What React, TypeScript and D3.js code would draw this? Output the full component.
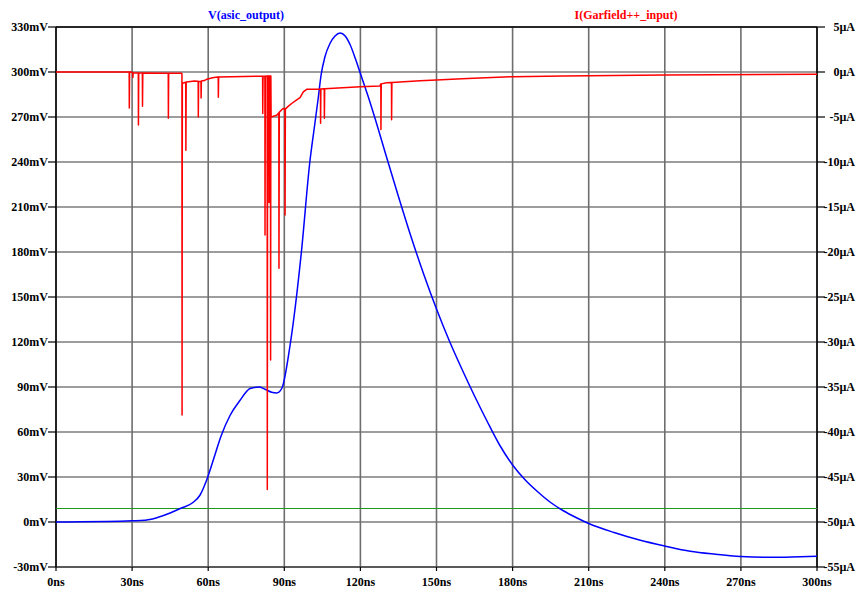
import React from 'react';
import * as d3 from 'd3';

// V(asic_output): [time ns, mV]
const voltagePoints: [number, number][] = [
  [0, 0], [10, 0.1], [20, 0.3], [30, 0.8], [35, 1.2], [37, 1.6], [40, 3], [45, 6], [49, 9],
  [54, 13], [56.8, 18], [59.4, 28], [62.7, 45], [65, 57], [68.6, 71], [72.5, 81], [76.5, 89],
  [80, 90], [82.4, 88.5], [85, 86.5], [87, 86], [89, 89], [92.2, 117], [96.8, 181], [100, 239],
  [102, 265], [103.4, 283], [104.5, 298], [106, 310], [108, 319], [110, 324], [112, 326],
  [114, 324], [116, 318], [118, 309], [120, 299], [123, 284], [126.5, 265], [130, 245],
  [135, 217], [140, 190], [145, 165], [150, 142], [155, 121], [160, 102], [165, 84], [170, 67],
  [175, 51], [180, 38], [185, 28], [190, 20], [195, 13], [200, 7.5], [205, 3], [210, -1],
  [220, -7], [230, -12], [240, -16], [250, -19.5], [260, -21.5], [270, -23], [280, -23.5],
  [290, -23.3], [300, -22.8],
];

// I(Garfield++_input) slow level: [time ns, µA]
const currentLevel: [number, number][] = [
  [0, 0], [29.8, 0], [30.2, -0.1], [49.6, -0.15], [49.8, -1.25], [51.5, -1.1], [54.5, -1.0],
  [56.5, -1.05], [58.5, -0.95], [59.5, -0.8], [61.7, -0.63], [63.7, -0.55], [84.7, -0.45],
  [84.8, -5.0], [87, -4.8], [88.3, -4.4], [89.5, -4.05], [90.5, -4.1], [91.4, -3.85],
  [92.9, -3.5], [94.9, -3.1], [96.2, -2.85], [97.5, -2.2], [98.8, -1.93], [104, -1.9],
  [120, -1.65], [127.7, -1.55], [128, -1.33], [130.4, -1.2], [143.5, -0.96], [150, -0.9],
  [160, -0.75], [180, -0.52], [200, -0.45], [240, -0.32], [300, -0.25],
];

// I(Garfield++_input) narrow negative pulses: [time ns, µA at the tip]
const currentSpikes: [number, number][] = [
  [28.9, -4.0], [30.3, -0.6], [32.5, -5.9], [34.1, -3.8], [44.3, -5.15], [49.7, -38.1],
  [51.2, -8.7], [56.1, -5.0], [57.2, -2.9], [64.0, -2.8], [81.5, -4.6], [82.4, -18.1],
  [83.3, -46.4], [84.0, -14.5], [84.6, -32], [87.9, -21.8], [90.3, -15.9], [104.3, -5.7],
  [105.8, -5.15], [128.1, -6.4], [132.3, -5.3],
];

const thresholdMv = 9;

const xTicks = d3.range(0, 301, 30);
const leftTicks = d3.range(-30, 331, 30);
const rightTicks = d3.range(-55, 6, 5);

const W = 857;
const H = 589;
const left = 56;
const right = 817;
const top = 27;
const bottom = 567;

const font = '"Liberation Serif", "Times New Roman", serif';

const App: React.FC = () => {
  const x = d3.scaleLinear().domain([0, 300]).range([left, right]);
  const yV = d3.scaleLinear().domain([-30, 330]).range([bottom, top]);
  const yI = d3.scaleLinear().domain([-55, 5]).range([bottom, top]);

  const levelAt = (t: number) => {
    const i = d3.bisector((d: [number, number]) => d[0]).right(currentLevel, t);
    if (i <= 0) return currentLevel[0][1];
    if (i >= currentLevel.length) return currentLevel[currentLevel.length - 1][1];
    const a = currentLevel[i - 1];
    const b = currentLevel[i];
    return a[1] + ((b[1] - a[1]) * (t - a[0])) / (b[0] - a[0]);
  };

  const redPts: [number, number][] = [...currentLevel];
  currentSpikes.forEach(([t, v]) => {
    redPts.push([t - 0.05, levelAt(t - 0.05)]);
    redPts.push([t, v]);
    redPts.push([t + 0.12, levelAt(t + 0.12)]);
  });
  redPts.sort((a, b) => a[0] - b[0]);

  const vLine = d3.line<[number, number]>()
    .x(d => x(d[0]))
    .y(d => yV(d[1]))
    .curve(d3.curveMonotoneX);

  const iLine = d3.line<[number, number]>()
    .x(d => x(d[0]))
    .y(d => yI(d[1]));

  const labelStyle: React.CSSProperties = { fontFamily: font, fontWeight: 'bold', fontSize: 12 };

  return (
    <svg width={W} height={H} viewBox={`0 0 ${W} ${H}`}
      style={{ position: 'absolute', left: 0, top: 0, background: '#fff' }}>
      {/* grid */}
      {leftTicks.map(v => (
        <line key={'h' + v} x1={left} x2={right} y1={yV(v)} y2={yV(v)} stroke="#7d7d7d" strokeWidth={1.6} />
      ))}
      {xTicks.map(t => (
        <line key={'v' + t} x1={x(t)} x2={x(t)} y1={top} y2={bottom} stroke="#6e6e6e" strokeWidth={1.6} />
      ))}
      {/* frame */}
      <line x1={left} x2={right} y1={top} y2={top} stroke="#000" strokeWidth={1.5} />
      <line x1={left} x2={right} y1={bottom} y2={bottom} stroke="#444" strokeWidth={1.5} />
      <line x1={left} x2={left} y1={top} y2={bottom} stroke="#000" strokeWidth={1.5} />
      <line x1={right} x2={right} y1={top} y2={bottom} stroke="#000" strokeWidth={1.5} />

      {/* left ticks */}
      {leftTicks.map(v => (
        <g key={'lt' + v}>
          <line x1={left - 8} x2={left} y1={yV(v)} y2={yV(v)} stroke="#000" strokeWidth={1.2} />
          <text x={left - 8} y={yV(v) + 4} textAnchor="end" style={labelStyle}>{`${v}mV`}</text>
        </g>
      ))}
      {/* right ticks */}
      {rightTicks.map(v => (
        <g key={'rt' + v}>
          <line x1={right} x2={right + 8} y1={yI(v)} y2={yI(v)} stroke="#000" strokeWidth={1.2} />
          <text x={855} y={yI(v) + 4} textAnchor="end" style={labelStyle}>{`${v}µA`}</text>
        </g>
      ))}
      {/* x ticks */}
      {xTicks.map(t => (
        <g key={'xt' + t}>
          <line x1={x(t)} x2={x(t)} y1={bottom} y2={bottom + 4} stroke="#000" strokeWidth={1.2} />
          <text x={x(t)} y={586} textAnchor="middle" style={labelStyle}>{`${t}ns`}</text>
        </g>
      ))}

      {/* traces */}
      <line x1={left} x2={right} y1={yV(thresholdMv)} y2={yV(thresholdMv)} stroke="#1f9a1f" strokeWidth={1.2} />
      <path d={vLine(voltagePoints) || ''} fill="none" stroke="#0000ff" strokeWidth={1.5} />
      <path d={iLine(redPts) || ''} fill="none" stroke="#ff0000" strokeWidth={1.5} strokeLinejoin="round" />

      {/* titles */}
      <text x={246} y={19} textAnchor="middle" style={{ ...labelStyle, fill: '#0000ff' }}>V(asic_output)</text>
      <text x={626} y={19} textAnchor="middle" style={{ ...labelStyle, fill: '#ff0000' }}>I(Garfield++_input)</text>
    </svg>
  );
};

export default App;
